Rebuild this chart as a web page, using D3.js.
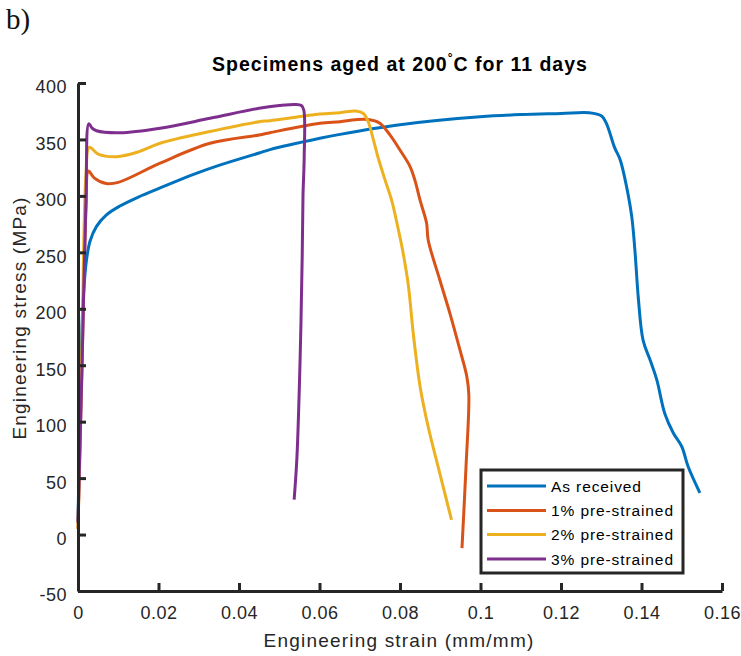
<!DOCTYPE html>
<html>
<head>
<meta charset="utf-8">
<script src="https://cdn.jsdelivr.net/npm/d3@7"></script>
<style>
  html, body { margin: 0; padding: 0; background: #fff; }
  svg { display: block; }
</style>
</head>
<body>
<svg id="chart" width="741" height="656"></svg>
<script>
// ---------- data ----------
const seriesNames = ["As received", "1% pre-strained", "2% pre-strained", "3% pre-strained"];

const asReceivedStrain = [0, 0.0005, 0.001, 0.0014, 0.0021, 0.003, 0.0046, 0.007, 0.0104, 0.015, 0.0204, 0.0287, 0.035, 0.045, 0.0477, 0.0601, 0.0651, 0.08, 0.0999, 0.11, 0.12, 0.127, 0.1301, 0.1313, 0.1333, 0.1347, 0.1363, 0.1376, 0.1384, 0.1392, 0.1404, 0.1421, 0.1438, 0.1458, 0.1479, 0.15, 0.1516, 0.1545];
const asReceivedStress = [10, 110, 185, 215, 243, 260, 273, 283, 291, 299, 307, 319, 327, 338, 341, 351, 354.5, 363, 370, 372, 373, 373.7, 370.8, 364, 343, 332, 308, 281, 250, 210, 172, 155, 137, 107, 90, 78, 60, 37];

const pre1Strain = [0, 0.001, 0.002, 0.0026, 0.004, 0.007, 0.01, 0.0204, 0.0328, 0.045, 0.0477, 0.0601, 0.0651, 0.069, 0.0725, 0.075, 0.0775, 0.08, 0.0825, 0.0837, 0.085, 0.0866, 0.087, 0.0899, 0.0924, 0.0949, 0.0966, 0.0971, 0.0964, 0.0954];
const pre1Stress = [5, 150, 290, 322, 316, 311, 312, 329, 346.6, 354, 356, 364.3, 365.7, 367.5, 367.5, 364.4, 354, 340.6, 326, 314, 296, 276, 261, 225.5, 196, 163.5, 140, 123.6, 60, -12];

const pre2Strain = [0, 0.001, 0.002, 0.0028, 0.005, 0.0096, 0.015, 0.0204, 0.0328, 0.045, 0.0477, 0.0601, 0.0651, 0.069, 0.0709, 0.0721, 0.0733, 0.0745, 0.0763, 0.0779, 0.0796, 0.0808, 0.0821, 0.0833, 0.085, 0.087, 0.0899, 0.0928];
const pre2Stress = [5, 170, 320, 343, 337, 334.7, 339, 346.6, 357, 365.7, 366.6, 372.5, 373.7, 375.2, 373, 365.7, 351, 334.7, 314, 296.4, 270, 249, 220, 178, 131, 95.5, 54, 13];

const pre3Strain = [0, 0.001, 0.002, 0.0027, 0.0035, 0.0046, 0.0104, 0.0204, 0.0328, 0.045, 0.05, 0.054, 0.0555, 0.0561, 0.0562, 0.0559, 0.0557, 0.0552, 0.0544, 0.0537];
const pre3Stress = [11, 150, 300, 364, 360, 357.7, 356, 360, 368.7, 377.6, 380, 381, 380, 376, 335, 300, 246, 158, 69, 31];

const xTicks = [0, 0.02, 0.04, 0.06, 0.08, 0.1, 0.12, 0.14, 0.16];
const xTickLabels = ["0", "0.02", "0.04", "0.06", "0.08", "0.1", "0.12", "0.14", "0.16"];
const yTicks = [-50, 0, 50, 100, 150, 200, 250, 300, 350, 400];
const yTickLabels = ["-50", "0", "50", "100", "150", "200", "250", "300", "350", "400"];

const colors = ["#0072BD", "#D95319", "#EDB120", "#7E2F8E"];

const series = [
  { name: seriesNames[0], xs: asReceivedStrain, ys: asReceivedStress },
  { name: seriesNames[1], xs: pre1Strain, ys: pre1Stress },
  { name: seriesNames[2], xs: pre2Strain, ys: pre2Stress },
  { name: seriesNames[3], xs: pre3Strain, ys: pre3Stress }
];

// ---------- layout ----------
const svg = d3.select("#chart");
const axisColor = "#262626";
const font = "'Liberation Sans', Arial, Helvetica, sans-serif";
const x = d3.scaleLinear().domain([0, 0.16]).range([78, 722]);
const y = d3.scaleLinear().domain([-50, 400]).range([591, 83]);

// "b)" panel label
svg.append("text")
  .attr("x", 6).attr("y", 29)
  .attr("font-family", "'Liberation Serif', 'DejaVu Serif', serif")
  .attr("font-size", 29)
  .attr("fill", "#111")
  .text("b)");

// title
const title = svg.append("text")
  .attr("x", 400).attr("y", 71)
  .attr("text-anchor", "middle")
  .attr("font-family", font)
  .attr("font-weight", "bold")
  .attr("font-size", 19.5)
  .attr("letter-spacing", 1.0)
  .attr("fill", "#000");
title.append("tspan").text("Specimens aged at 200");
title.append("tspan").attr("font-size", 12).attr("dy", -9).text("°");
title.append("tspan").attr("dy", 9).text("C for 11 days");

// lines
const line = d3.line()
  .x(d => x(d[0])).y(d => y(d[1]))
  .curve(d3.curveCatmullRom.alpha(0.5));
series.forEach((s, i) => {
  const pts = s.xs.map((v, j) => [v, s.ys[j]]);
  svg.append("path")
    .datum(pts)
    .attr("d", line)
    .attr("fill", "none")
    .attr("stroke", colors[i])
    .attr("stroke-width", 3)
    .attr("stroke-linejoin", "round")
    .attr("stroke-linecap", "butt");
});

// axes
const xAxis = d3.axisBottom(x)
  .tickValues(xTicks)
  .tickFormat((d, i) => xTickLabels[i])
  .tickSizeInner(-8).tickSizeOuter(0).tickPadding(15.5);
const yAxis = d3.axisLeft(y)
  .tickValues(yTicks)
  .tickFormat((d, i) => yTickLabels[i])
  .tickSizeInner(-8).tickSizeOuter(0).tickPadding(11);

const gx = svg.append("g").attr("transform", "translate(0,591)").call(xAxis);
const gy = svg.append("g").attr("transform", "translate(78,0)").call(yAxis);

[gx, gy].forEach(g => {
  g.select(".domain").attr("stroke", axisColor).attr("stroke-width", 3);
  g.selectAll(".tick line").attr("stroke", axisColor).attr("stroke-width", 3);
  g.selectAll(".tick text")
    .attr("fill", axisColor)
    .attr("font-family", font)
    .attr("font-size", 18)
    .attr("letter-spacing", 0.5);
});
gy.selectAll(".tick text").attr("dy", "0.55em");

// axis labels
svg.append("text")
  .attr("x", 399).attr("y", 647)
  .attr("text-anchor", "middle")
  .attr("font-family", font)
  .attr("font-size", 19)
  .attr("letter-spacing", 1.2)
  .attr("fill", axisColor)
  .text("Engineering strain (mm/mm)");

svg.append("text")
  .attr("transform", "translate(26,318) rotate(-90)")
  .attr("text-anchor", "middle")
  .attr("font-family", font)
  .attr("font-size", 19)
  .attr("letter-spacing", 1.2)
  .attr("fill", axisColor)
  .text("Engineering stress (MPa)");

// legend
const legend = svg.append("g");
legend.append("rect")
  .attr("x", 481).attr("y", 470).attr("width", 202).attr("height", 103)
  .attr("fill", "#fff").attr("stroke", axisColor).attr("stroke-width", 3);
const rowY = [486, 510.5, 534.5, 559];
series.forEach((s, i) => {
  legend.append("line")
    .attr("x1", 487).attr("x2", 546)
    .attr("y1", rowY[i]).attr("y2", rowY[i])
    .attr("stroke", colors[i]).attr("stroke-width", 3);
  legend.append("text")
    .attr("x", 551).attr("y", rowY[i]).attr("dy", "0.36em")
    .attr("font-family", font)
    .attr("font-size", 15.5)
    .attr("letter-spacing", 0.9)
    .attr("fill", "#000")
    .text(s.name);
});
</script>
</body>
</html>
